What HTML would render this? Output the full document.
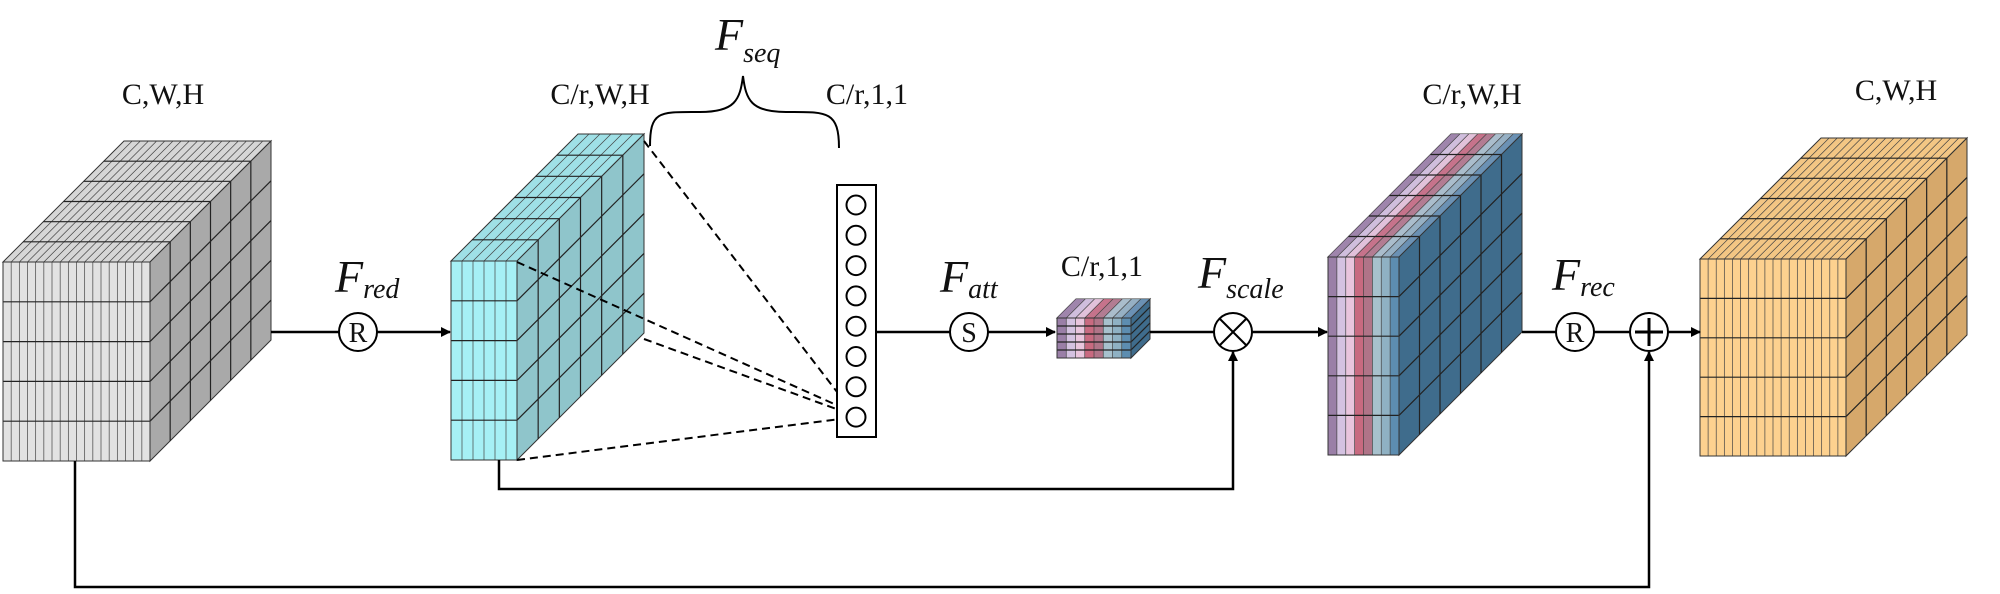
<!DOCTYPE html>
<html><head><meta charset="utf-8"><style>
html,body{margin:0;padding:0;background:#fff;}
svg{display:block}
text{font-family:"Liberation Serif",serif;fill:#111}
</style></head><body>
<svg id="s" width="2000" height="594" viewBox="0 0 2000 594" xmlns="http://www.w3.org/2000/svg">
<defs>
<marker id="ar" markerWidth="10" markerHeight="10" refX="9" refY="5" orient="auto" markerUnits="userSpaceOnUse">
<path d="M0,0 L10,5 L0,10 z" fill="#000"/></marker>
</defs>
<g id="cubes"></g>
<!-- connectors -->
<g stroke="#000" stroke-width="2.5" fill="none">
<line x1="271" y1="332" x2="339" y2="332"/>
<line x1="377" y1="332" x2="450" y2="332" marker-end="url(#ar)"/>
<line x1="876" y1="332" x2="950" y2="332"/>
<line x1="988" y1="332" x2="1055" y2="332" marker-end="url(#ar)"/>
<line x1="1150" y1="332" x2="1214" y2="332"/>
<line x1="1252" y1="332" x2="1327" y2="332" marker-end="url(#ar)"/>
<line x1="1522" y1="332" x2="1556" y2="332"/>
<line x1="1594" y1="332" x2="1630" y2="332"/>
<line x1="1668" y1="332" x2="1700" y2="332" marker-end="url(#ar)"/>
<polyline points="499,460 499,489 1233,489 1233,352" marker-end="url(#ar)"/>
<polyline points="75,461 75,587 1649,587 1649,352" marker-end="url(#ar)"/>
</g>
<g stroke="#000" stroke-width="2" fill="none" stroke-dasharray="8,5">
<line x1="644" y1="141" x2="854" y2="414"/>
<line x1="517" y1="262" x2="852" y2="412"/>
<line x1="644" y1="339" x2="850" y2="414"/>
<line x1="517" y1="460" x2="840" y2="419"/>
</g>
<!-- brace -->
<path d="M650,146 C650,110 660,112 700,112 C735,112 740,100 743,76 C746,100 751,112 786,112 C826,112 839,110 839,148" stroke="#000" stroke-width="2" fill="none"/>
<!-- vector -->
<rect x="837" y="185" width="39" height="252" fill="#fff" stroke="#000" stroke-width="2"/>
<g id="vec" stroke="#000" stroke-width="2" fill="#fff"></g>
<!-- operators -->
<g stroke="#000" stroke-width="2" fill="#fff">
<circle cx="358" cy="332" r="19"/><circle cx="969" cy="332" r="19"/>
<circle cx="1233" cy="332" r="19"/><circle cx="1575" cy="332" r="19"/><circle cx="1649" cy="332" r="19"/>
<line x1="1220" y1="319" x2="1246" y2="345"/><line x1="1246" y1="319" x2="1220" y2="345"/>
<line x1="1649" y1="318" x2="1649" y2="346" stroke-width="3"/><line x1="1635" y1="332" x2="1663" y2="332" stroke-width="3"/>
</g>
<g font-size="28" text-anchor="middle">
<text x="358" y="342">R</text><text x="969" y="342">S</text><text x="1575" y="342">R</text>
</g>
<g font-size="30" text-anchor="middle">
<text x="163" y="104">C,W,H</text>
<text x="600" y="104">C/r,W,H</text>
<text x="867" y="104">C/r,1,1</text>
<text x="1102" y="276">C/r,1,1</text>
<text x="1472" y="104">C/r,W,H</text>
<text x="1896" y="100">C,W,H</text>
</g>
<g font-style="italic">
<text x="715" y="50" font-size="46">F<tspan font-size="28" dy="12">seq</tspan></text>
<text x="335" y="292" font-size="46">F<tspan font-size="28" dy="6">red</tspan></text>
<text x="940" y="292" font-size="46">F<tspan font-size="28" dy="6">att</tspan></text>
<text x="1198" y="288" font-size="46">F<tspan font-size="28" dy="10">scale</tspan></text>
<text x="1552" y="290" font-size="46">F<tspan font-size="28" dy="6">rec</tspan></text>
</g>
</svg>
<script>
var NS="http://www.w3.org/2000/svg",g=document.getElementById("cubes");
function el(t,a){var e=document.createElementNS(NS,t);for(var k in a)e.setAttribute(k,a[k]);g.appendChild(e);return e;}
function ln(x1,y1,x2,y2,w,c){el("line",{x1:x1,y1:y1,x2:x2,y2:y2,stroke:c||"#222","stroke-width":w||1});}
function cube(x,y,w,h,d,o){
 var cols=o.cols||[o.front],n=o.n,rows=5,k=o.k;
 // top
 el("polygon",{points:[x,y,x+d,y-d,x+w+d,y-d,x+w,y].join(" "),fill:o.top,stroke:"#333","stroke-width":1});
 // top stripes
 if(o.cols){var sw=w/cols.length;for(var i=0;i<cols.length;i++){el("polygon",{points:[x+i*sw,y,x+i*sw+d,y-d,x+(i+1)*sw+d,y-d,x+(i+1)*sw,y].join(" "),fill:cols[i],opacity:0.85});}}
 for(var i=1;i<n;i++){var xx=x+w*i/n;ln(xx,y,xx+d,y-d,0.7,"#444");}
 for(var j=1;j<k;j++){var t=d*j/k;ln(x+t,y-t,x+w+t,y-t,1.2,"#222");}
 // side
 el("polygon",{points:[x+w,y,x+w+d,y-d,x+w+d,y+h-d,x+w,y+h].join(" "),fill:o.side,stroke:"#333","stroke-width":1});
 for(var j=1;j<k;j++){var t=d*j/k;ln(x+w+t,y-t,x+w+t,y+h-t,1.2,"#222");}
 for(var r=1;r<rows;r++){var yy=y+h*r/rows;ln(x+w,yy,x+w+d,yy-d,1.2,"#222");}
 // front
 el("rect",{x:x,y:y,width:w,height:h,fill:cols[0],stroke:"#333","stroke-width":1});
 if(o.cols){var sw=w/cols.length;for(var i=0;i<cols.length;i++)el("rect",{x:x+i*sw,y:y,width:sw,height:h,fill:cols[i]});}
 for(var i=1;i<n;i++){var xx=x+w*i/n;ln(xx,y,xx,y+h,0.7,"#444");}
 for(var r=1;r<rows;r++){var yy=y+h*r/rows;ln(x,yy,x+w,yy,1.2,"#222");}
 el("rect",{x:x,y:y,width:w,height:h,fill:"none",stroke:"#333","stroke-width":1});
}
cube(3,262,147,199,121,{front:"#e2e2e2",top:"#d6d6d6",side:"#a9a9a9",n:18,k:6});
cube(451,261,66,199,127,{front:"#a6f0f5",top:"#9fe0e6",side:"#8fc5cb",n:6,k:6});
cube(1057,318,74,40,19,{cols:["#9a7fa7","#d4c2e1","#e9c5dd","#c86a80","#b07488","#a7c1cd","#8fb1c3","#5d8db0"],top:"#b9a9c6",side:"#3f6c8c",n:8,k:1});
cube(1328,257,71,198,123,{cols:["#9a7fa7","#d4c2e1","#e9c5dd","#c86a80","#b07488","#a7c1cd","#8fb1c3","#5d8db0"],top:"#b9a9c6",side:"#3f6c8c",n:8,k:6});
cube(1700,259,146,197,121,{front:"#fdd18f",top:"#f3c684",side:"#d6a86b",n:18,k:6});
var v=document.getElementById("vec");
for(var i=0;i<8;i++){var c=document.createElementNS(NS,"circle");c.setAttribute("cx",856);c.setAttribute("cy",205+i*30.3);c.setAttribute("r",9.5);v.appendChild(c);}
</script>
</body></html>
